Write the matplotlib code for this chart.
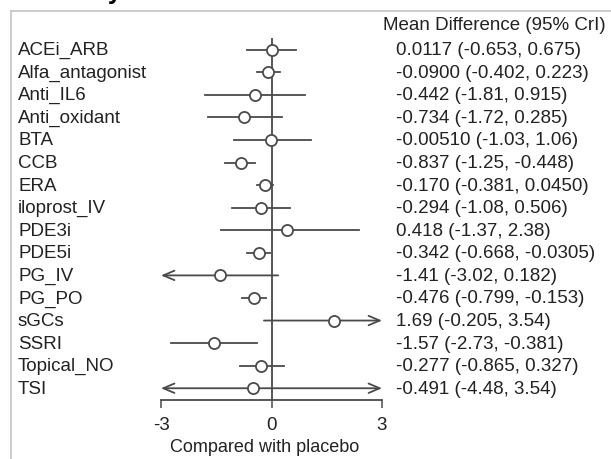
import matplotlib
matplotlib.use("Agg")
import matplotlib.pyplot as plt
import matplotlib.transforms as mtrans
from matplotlib.lines import Line2D

plt.rcParams['font.family'] = ['Liberation Sans', 'DejaVu Sans']

# data
treatments = ['ACEi_ARB', 'Alfa_antagonist', 'Anti_IL6', 'Anti_oxidant', 'BTA', 'CCB',
              'ERA', 'iloprost_IV', 'PDE3i', 'PDE5i', 'PG_IV', 'PG_PO', 'sGCs', 'SSRI',
              'Topical_NO', 'TSI']
mean_diff = [0.0117, -0.0900, -0.442, -0.734, -0.00510, -0.837, -0.170, -0.294, 0.418,
             -0.342, -1.41, -0.476, 1.69, -1.57, -0.277, -0.491]
lower = [-0.653, -0.402, -1.81, -1.72, -1.03, -1.25, -0.381, -1.08, -1.37, -0.668, -3.02,
         -0.799, -0.205, -2.73, -0.865, -4.48]
upper = [0.675, 0.223, 0.915, 0.285, 1.06, -0.448, 0.0450, 0.506, 2.38, -0.0305, 0.182,
         -0.153, 3.54, -0.381, 0.327, 3.54]
ci_text = ['0.0117 (-0.653, 0.675)', '-0.0900 (-0.402, 0.223)', '-0.442 (-1.81, 0.915)',
           '-0.734 (-1.72, 0.285)', '-0.00510 (-1.03, 1.06)', '-0.837 (-1.25, -0.448)',
           '-0.170 (-0.381, 0.0450)', '-0.294 (-1.08, 0.506)', '0.418 (-1.37, 2.38)',
           '-0.342 (-0.668, -0.0305)', '-1.41 (-3.02, 0.182)', '-0.476 (-0.799, -0.153)',
           '1.69 (-0.205, 3.54)', '-1.57 (-2.73, -0.381)', '-0.277 (-0.865, 0.327)',
           '-0.491 (-4.48, 3.54)']
xticks = [-3, 0, 3]

W, H = 611, 460
fig = plt.figure(figsize=(W / 100, H / 100), dpi=100)
fig.patch.set_facecolor('white')

# axes placed in pixels: x from -3 -> 161px to 3 -> 382px
left, right = 161 / W, 382 / W
top_px, bot_px = 39, 401
ax = fig.add_axes([left, (H - bot_px) / H, right - left, (bot_px - top_px) / H])

row0, step = 50.7, 22.57
ax.set_xlim(-3, 3)
ax.set_ylim((bot_px - row0) / step, (top_px - row0) / step)

col = '#4a4a4a'
ax.axvline(0, color=col, lw=1.3, zorder=1)

for i in range(len(treatments)):
    lo = max(lower[i], -3)
    hi = min(upper[i], 3)
    style = '-'
    if lower[i] < -3 and upper[i] > 3:
        style = '<->'
    elif lower[i] < -3:
        style = '<-'
    elif upper[i] > 3:
        style = '->'
    if style == '-':
        ax.plot([lo, hi], [i, i], color=col, lw=1.3, zorder=2)
    else:
        ax.annotate('', xy=(hi, i), xytext=(lo, i),
                    arrowprops=dict(arrowstyle=style + ',head_length=0.4,head_width=0.17',
                                    color=col, lw=1.3, shrinkA=0, shrinkB=0,
                                    mutation_scale=20), zorder=2)
    ax.plot(mean_diff[i], i, 'o', ms=8, mfc='white', mec=col, mew=1.3, zorder=3)

for s in ['top', 'right', 'left']:
    ax.spines[s].set_visible(False)
ax.spines['bottom'].set_color(col)
ax.spines['bottom'].set_linewidth(1.3)
ax.spines['bottom'].set_bounds(-3, 3)
ax.set_yticks([])
ax.set_xticks(xticks)
ax.set_xticklabels([str(t) for t in xticks])
ax.tick_params(axis='x', direction='out', length=5.5, width=1.1, color=col,
               labelsize=13.5, pad=6, labelcolor='#222222')
ax.set_xlabel('Compared with placebo', fontsize=13, color='#222222')
ax.xaxis.set_label_coords(0.47, -0.105)
ax.patch.set_alpha(0)

# labels and values, x in figure fraction, y in data rows
tr = mtrans.blended_transform_factory(fig.transFigure, ax.transData)
for i in range(len(treatments)):
    ax.text(18 / W, i, treatments[i], transform=tr, fontsize=13.5, va='center',
            ha='left', color='#222222', clip_on=False)
    ax.text(396 / W, i, ci_text[i], transform=tr, fontsize=13.5, va='center',
            ha='left', color='#222222', clip_on=False)
fig.text(383 / W, (H - 25) / H, 'Mean Difference (95% CrI)', fontsize=13.5,
         va='center', ha='left', color='#222222')

# frame and cut-off heading from the source image
fig.add_artist(Line2D([11 / W, 11 / W], [0, (H - 12) / H], color='#c4c4c4', lw=1.2))
fig.add_artist(Line2D([11 / W, 1], [(H - 12) / H, (H - 12) / H], color='#c4c4c4', lw=1.2))
fig.text(122 / W, 1.0 + 1.5 / H, 'Efficacy', fontsize=18, fontweight='bold', ha='right',
         va='baseline', color='black')

plt.savefig('out.png', dpi=100)
